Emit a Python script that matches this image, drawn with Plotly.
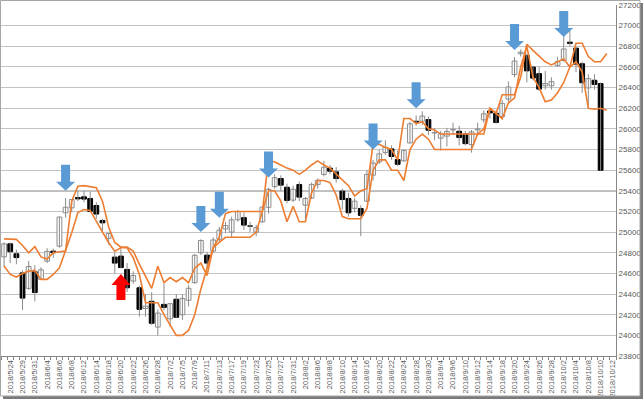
import plotly.graph_objects as go

dates = [
    "2018/5/23", "2018/5/24", "2018/5/25", "2018/5/29", "2018/5/30", "2018/5/31",
    "2018/6/1", "2018/6/4", "2018/6/5", "2018/6/6", "2018/6/7", "2018/6/8", "2018/6/11",
    "2018/6/12", "2018/6/13", "2018/6/14", "2018/6/15", "2018/6/18", "2018/6/19", "2018/6/20",
    "2018/6/21", "2018/6/22", "2018/6/25", "2018/6/26", "2018/6/27", "2018/6/28", "2018/6/29",
    "2018/7/2", "2018/7/3", "2018/7/5", "2018/7/6", "2018/7/9", "2018/7/10", "2018/7/11",
    "2018/7/12", "2018/7/13", "2018/7/16", "2018/7/17", "2018/7/18", "2018/7/19", "2018/7/20",
    "2018/7/23", "2018/7/24", "2018/7/25", "2018/7/26", "2018/7/27", "2018/7/30", "2018/7/31",
    "2018/8/1", "2018/8/2", "2018/8/3", "2018/8/6", "2018/8/7", "2018/8/8", "2018/8/9",
    "2018/8/10", "2018/8/13", "2018/8/14", "2018/8/15", "2018/8/16", "2018/8/17", "2018/8/20",
    "2018/8/21", "2018/8/22", "2018/8/23", "2018/8/24", "2018/8/27", "2018/8/28", "2018/8/29",
    "2018/8/30", "2018/8/31", "2018/9/4", "2018/9/5", "2018/9/6", "2018/9/7", "2018/9/10",
    "2018/9/11", "2018/9/12", "2018/9/13", "2018/9/14", "2018/9/17", "2018/9/18", "2018/9/19",
    "2018/9/20", "2018/9/21", "2018/9/24", "2018/9/25", "2018/9/26", "2018/9/27", "2018/9/28",
    "2018/10/1", "2018/10/2", "2018/10/3", "2018/10/4", "2018/10/5", "2018/10/8", "2018/10/9",
    "2018/10/10", "2018/10/11", "2018/10/12",
]

opens = [
    24760, 24887, 24790, 24605, 24455, 24616, 24542, 24719, 24816, 24864,
    25187, 25235, 25335, 25342, 25326, 25258, 25113, 24940, 24758, 24768,
    24639, 24526, 24461, 24260, 24330, 24080, 24300, 24160, 24350, 24200,
    24340, 24510, 24800, 24777, 24816, 24930, 25030, 25000, 25120, 25140,
    25060, 25000, 25100, 25240, 25440, 25519, 25435, 25310, 25461, 25261,
    25330, 25460, 25558, 25620, 25584, 25397, 25326, 25230, 25229, 25300,
    25552, 25680, 25770, 25806, 25703, 25690, 25864, 26074, 26074, 26090,
    25960, 25910, 25930, 25990, 25977, 25950, 25848, 25990, 26087, 26173,
    26151, 26119, 26288, 26526, 26728, 26712, 26599, 26535, 26417, 26417,
    26615, 26663, 26840, 26782, 26631, 26397, 26471, 26439,
]
highs = [
    24900, 24900, 24830, 24630, 24720, 24680, 24660, 24845, 24840, 25150,
    25330, 25320, 25400, 25400, 25390, 25290, 25130, 24995, 24800, 24840,
    24700, 24620, 24480, 24400, 24420, 24250, 24500, 24310, 24400, 24400,
    24490, 24790, 24930, 24810, 24950, 25050, 25100, 25150, 25215, 25190,
    25100, 25070, 25250, 25430, 25560, 25550, 25470, 25450, 25490, 25340,
    25480, 25520, 25690, 25650, 25630, 25420, 25380, 25330, 25260, 25600,
    25700, 25800, 25890, 25840, 25790, 25800, 26070, 26130, 26170, 26120,
    26010, 25980, 26010, 26060, 26030, 25980, 25990, 26060, 26180, 26200,
    26180, 26280, 26460, 26696, 26770, 26730, 26610, 26600, 26560, 26500,
    26700, 26920, 26950, 26790, 26650, 26530, 26530, 26450,
]
lows = [
    24660, 24700, 24690, 24245, 24440, 24330, 24540, 24700, 24750, 24850,
    25140, 25190, 25300, 25290, 25190, 25130, 25000, 24880, 24600, 24650,
    24420, 24500, 24180, 24180, 24100, 24000, 24240, 24080, 24170, 24150,
    24280, 24500, 24780, 24650, 24800, 24900, 24990, 24950, 25100, 25020,
    25000, 24960, 25090, 25180, 25420, 25400, 25280, 25290, 25300, 25123,
    25320, 25420, 25540, 25560, 25480, 25220, 25150, 25190, 24961, 25290,
    25500, 25660, 25750, 25700, 25640, 25680, 25860, 26030, 26040, 25940,
    25890, 25790, 25830, 25940, 25840, 25840, 25770, 25930, 26060, 26100,
    26050, 26090, 26260, 26500, 26700, 26450, 26470, 26370, 26380, 26380,
    26600, 26650, 26800, 26550, 26350, 26224, 26380, 25596,
]
closes = [
    24886, 24811, 24753, 24361, 24667, 24415, 24635, 24813, 24800, 25146,
    25241, 25316, 25322, 25320, 25201, 25175, 25090, 24987, 24700, 24657,
    24461, 24580, 24252, 24283, 24117, 24216, 24271, 24307, 24175, 24357,
    24456, 24776, 24919, 24700, 24924, 25019, 25064, 25119, 25199, 25068,
    25058, 25044, 25242, 25414, 25527, 25455, 25307, 25415, 25339, 25326,
    25462, 25502, 25628, 25590, 25519, 25316, 25187, 25300, 25162, 25558,
    25669, 25758, 25822, 25733, 25657, 25790, 26049, 26065, 26124, 25987,
    25965, 25952, 25975, 25996, 25916, 25857, 25971, 25999, 26146, 26155,
    26062, 26247, 26406, 26657, 26743, 26562, 26492, 26385, 26440, 26458,
    26651, 26774, 26828, 26627, 26447, 26487, 26431, 25599,
]

line_a = [
    24935, 24935, 24930, 24870, 24800, 24860, 24760, 24740, 24800, 24810,
    24816, 25300, 25445, 25450, 25440, 25430, 25300, 25050, 24900, 24855,
    24855, 24816, 24690, 24570, 24455, 24670, 24510, 24560, 24520, 24560,
    24510, 24650, 24700, 24580, 24850, 24950, 25180, 25200, 25200, 25200,
    25200, 25200, 25200, 25700, 25680, 25650, 25620, 25600, 25560, 25600,
    25650, 25690, 25650, 25620, 25560, 25500, 25450, 25350, 25400, 25420,
    25850, 25850, 25820, 25800, 25700, 26100, 26100, 26050, 26070, 26000,
    25990, 25950, 25950, 25950, 25950, 25950, 25950, 25950, 25950, 26200,
    26150, 26330, 26330, 26330, 26500, 26820, 26760, 26700, 26650, 26620,
    26650, 26680, 26600, 26830, 26830, 26700, 26650, 26650, 26730,
]
line_b = [
    24671, 24590, 24565, 24600, 24622, 24629, 24542, 24542, 24590, 24655,
    24822, 24994, 25190, 25219, 25210, 25106, 25010, 24897, 24816, 24848,
    24848, 24752, 24590, 24316, 24316, 24316, 24200, 24100, 24000, 24000,
    24050, 24200, 24450, 24650, 24850, 24900, 24950, 24950, 24950, 24950,
    24950, 25000, 25200, 25400, 25400, 25300, 25100, 25250, 25100, 25100,
    25380, 25500, 25500, 25480, 25360, 25150, 25130, 25130, 25130, 25230,
    25600, 25700, 25700, 25600, 25600, 25500, 25800, 25900, 25950, 25900,
    25800, 25800, 25800, 25800, 25800, 25800, 25800, 25950, 26000, 26200,
    26150, 26100, 26250, 26300, 26600, 26800, 26500, 26400, 26263, 26280,
    26350, 26450, 26600, 26650, 26550, 26200, 26190, 26200, 26180,
]

# arrow marks: (category index, price at the arrow tip)
down_arrows = [(10, 25400), (32, 25000), (35, 25140), (43, 25530),
               (60, 25800), (67, 26200), (83, 26765), (91, 26890)]
up_arrows = [(19, 24595)]
ref_level = 25400

y_min, y_max, y_step = 23800, 27200, 200

# ---- pixel geometry of the plot box (for frame shapes) ----
PX0, PX1, PY0, PY1 = 1, 616, 5, 356
W, H = 644, 400


def px(xp):
    return (xp - PX0) / (PX1 - PX0)


def py(yp):
    return (PY1 - yp) / (PY1 - PY0)


idx = list(range(len(opens)))
idx_lines = list(range(len(line_a)))

# candle pieces derived from OHLC
wick_x, wick_y = [], []
up_x, up_base, up_h = [], [], []
dn_x, dn_base, dn_h = [], [], []
for i, (o, h, l, c) in enumerate(zip(opens, highs, lows, closes)):
    wick_x += [i, i, None]
    wick_y += [l, h, None]
    lo_b, hi_b = min(o, c), max(o, c)
    if c >= o:
        up_x.append(i); up_base.append(lo_b); up_h.append(hi_b - lo_b)
    else:
        dn_x.append(i); dn_base.append(lo_b); dn_h.append(hi_b - lo_b)

fig = go.Figure()
fig.add_trace(go.Scatter(x=wick_x, y=wick_y, mode="lines", line=dict(color="#8c8c8c", width=1),
                         showlegend=False, hoverinfo="skip"))
fig.add_trace(go.Bar(x=up_x, y=up_h, base=up_base, width=0.78,
                     marker=dict(color="white", line=dict(color="#8c8c8c", width=1)),
                     showlegend=False, hoverinfo="skip"))
fig.add_trace(go.Bar(x=dn_x, y=dn_h, base=dn_base, width=0.78,
                     marker=dict(color="black", line=dict(color="black", width=1)),
                     showlegend=False, hoverinfo="skip"))
fig.add_trace(go.Scatter(x=idx_lines, y=line_a, mode="lines",
                         line=dict(color="#ed7d31", width=1.6), showlegend=False, hoverinfo="skip"))
fig.add_trace(go.Scatter(x=idx_lines, y=line_b, mode="lines",
                         line=dict(color="#ed7d31", width=1.6), showlegend=False, hoverinfo="skip"))

shapes = []
shapes.append(dict(type="line", xref="paper", yref="y", x0=0, x1=1, y0=ref_level, y1=ref_level,
                   line=dict(color="#808080", width=1.5), layer="below"))

down_path = "M 0 0 L -9.5 9 L -4.5 9 L -4.5 26 L 4.5 26 L 4.5 9 L 9.5 9 Z"
up_path = "M 0 0 L -9.5 -11 L -4.5 -11 L -4.5 -26 L 4.5 -26 L 4.5 -11 L 9.5 -11 Z"
for xi, yv in down_arrows:
    shapes.append(dict(type="path", xref="x", yref="y", xsizemode="pixel", ysizemode="pixel",
                       xanchor=xi, yanchor=yv, path=down_path,
                       fillcolor="#5b9bd5", line=dict(width=0), layer="above"))
for xi, yv in up_arrows:
    shapes.append(dict(type="path", xref="x", yref="y", xsizemode="pixel", ysizemode="pixel",
                       xanchor=xi, yanchor=yv, path=up_path,
                       fillcolor="#ff0000", line=dict(width=0), layer="above"))

# outer chart frame with shadow
shapes.append(dict(type="rect", xref="paper", yref="paper", x0=px(3), x1=px(643), y0=py(396), y1=py(399),
                   fillcolor="#7a7a7a", line=dict(width=0), layer="above"))
shapes.append(dict(type="rect", xref="paper", yref="paper", x0=px(640), x1=px(643), y0=py(396), y1=py(3),
                   fillcolor="#7a7a7a", line=dict(width=0), layer="above"))
shapes.append(dict(type="rect", xref="paper", yref="paper", x0=px(0.5), x1=px(640), y0=py(396), y1=py(0.5),
                   fillcolor="rgba(0,0,0,0)", line=dict(color="#a6a6a6", width=1), layer="above"))
fig.update_layout(shapes=shapes)

tick_idx = list(range(1, len(dates), 2))
fig.update_layout(
    width=W, height=H,
    margin=dict(l=PX0, r=W - PX1, t=PY0, b=H - PY1, pad=0),
    paper_bgcolor="white", plot_bgcolor="white",
    font=dict(family="Liberation Sans, Arial, sans-serif", color="#595959"),
    showlegend=False, barmode="overlay",
    xaxis=dict(
        range=[-0.5, len(dates) - 0.5], tickmode="array", tickvals=tick_idx,
        ticktext=[dates[i] for i in tick_idx], tickangle=-90,
        tickfont=dict(size=7.5, color="#595959"), showgrid=False, zeroline=False,
        showline=True, linecolor="#868686", linewidth=1, ticks="", automargin=False,
        minor=dict(ticks="outside", tickvals=[i - 0.5 for i in range(len(dates) + 1)],
                   ticklen=3, tickcolor="#868686", showgrid=False),
    ),
    yaxis=dict(
        range=[y_min, y_max], tick0=y_min, dtick=y_step, side="right",
        tickformat="d", tickfont=dict(size=8, color="#595959"),
        showgrid=True, gridcolor="#c3c3c3", gridwidth=1, zeroline=False,
        showline=True, linecolor="#868686", linewidth=1, mirror=True, ticks="",
        automargin=False,
    ),
)

fig.write_html("out.html")
